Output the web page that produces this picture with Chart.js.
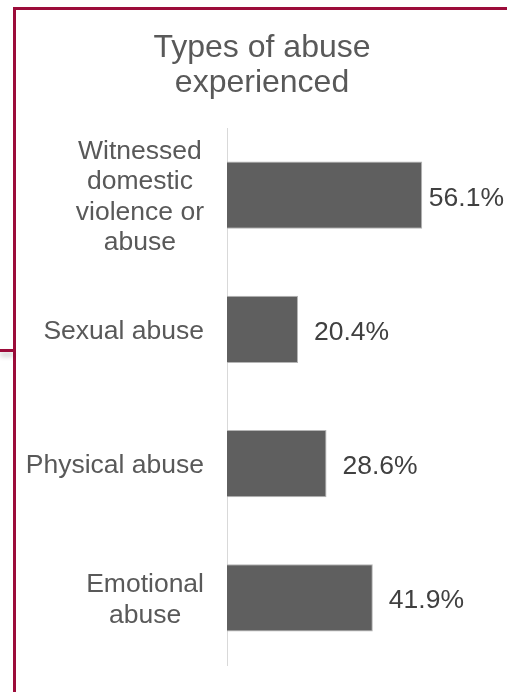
<!DOCTYPE html>
<html>
<head>
<meta charset="utf-8">
<script src="https://cdn.jsdelivr.net/npm/chart.js@4/dist/chart.umd.min.js"></script>
<style>
  html, body { margin: 0; padding: 0; background: #fff; }
  #wrap { position: relative; width: 507px; height: 692px; overflow: hidden; }
  #abuseChart { position: absolute; left: 0; top: 0; }
  .frame-left { position: absolute; left: 13px; top: 7px; width: 3px; height: 700px; background: #9c0c3a; }
  .frame-top { position: absolute; left: 13px; top: 7px; width: 500px; height: 3px; background: #9c0c3a; }
  .frame-tab { position: absolute; left: 0; top: 349px; width: 14px; height: 3px; background: #9c0c3a;
               box-shadow: 0 4px 5px rgba(0, 0, 0, 0.25); }
</style>
</head>
<body>
<div id="wrap">
  <canvas id="abuseChart" width="507" height="692"></canvas>
  <div class="frame-left"></div>
  <div class="frame-top"></div>
  <div class="frame-tab"></div>
</div>
<script>
const titleLines = ["Types of abuse", "experienced"];
const categories = [
  ["Witnessed", "domestic", "violence or", "abuse"],
  ["Sexual abuse"],
  ["Physical abuse"],
  ["Emotional", "abuse"]
];
const percentages = [56.1, 20.4, 28.6, 41.9];

const FONT = "'Liberation Sans', Arial, sans-serif";

// Category names (centred lines, block right-aligned) and value labels next to each bar
const barLabels = {
  id: "barLabels",
  afterDraw(chart) {
    const ctx = chart.ctx;
    const yScale = chart.scales.y;
    const meta = chart.getDatasetMeta(0);
    const left = chart.chartArea.left;

    ctx.save();
    ctx.font = "26.5px " + FONT;
    ctx.textBaseline = "alphabetic";

    categories.forEach((lines, i) => {
      const cy = yScale.getPixelForValue(i);
      const widest = Math.max(...lines.map(l => ctx.measureText(l).width));
      const cx = left - 23 - widest / 2;
      const lineH = 30.5;
      ctx.fillStyle = "#595959";
      ctx.textAlign = "center";
      lines.forEach((line, j) => {
        ctx.fillText(line, cx, cy + 9.5 + (j - (lines.length - 1) / 2) * lineH);
      });
    });

    ctx.fillStyle = "#404040";
    ctx.textAlign = "left";
    meta.data.forEach((bar, i) => {
      const text = percentages[i].toFixed(1) + "%";
      const w = ctx.measureText(text).width;
      const x = Math.min(bar.x + 16, 504 - w);
      ctx.fillText(text, x, bar.y + 10.5);
    });
    ctx.restore();
  }
};

new Chart(document.getElementById("abuseChart"), {
  type: "bar",
  data: {
    labels: categories,
    datasets: [{
      data: percentages,
      backgroundColor: "#5f5f5f",
      borderColor: "#b5b5b5",
      borderWidth: 1,
      categoryPercentage: 1,
      barPercentage: 0.5
    }]
  },
  options: {
    indexAxis: "y",
    responsive: false,
    animation: false,
    devicePixelRatio: 1,
    layout: { padding: { left: 20, right: 3, top: 0, bottom: 27 } },
    plugins: {
      legend: { display: false },
      tooltip: { enabled: false },
      title: {
        display: true,
        text: titleLines,
        color: "#595959",
        font: { family: FONT, size: 32, weight: "normal", lineHeight: 35 / 32 },
        padding: { top: 30.5, bottom: 27.5 }
      }
    },
    scales: {
      x: { display: false, min: 0, max: 79.6 },
      y: {
        grid: { display: false, drawTicks: false },
        border: { color: "#d9d9d9", width: 1 },
        ticks: { display: false },
        afterFit(scale) { scale.width = 207; }
      }
    }
  },
  plugins: [barLabels]
});
</script>
</body>
</html>
